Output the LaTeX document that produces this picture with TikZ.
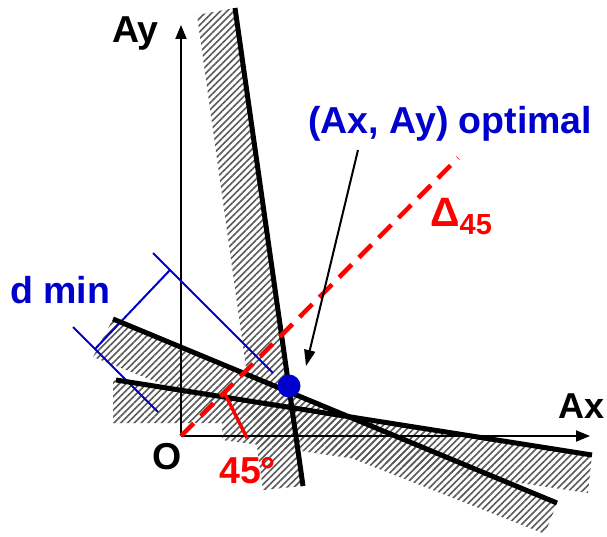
\documentclass[tikz,border=0pt]{standalone}
\usepackage{fontspec}
\setmainfont{Liberation Sans}
\usetikzlibrary{patterns.meta,arrows.meta}
\definecolor{dblue}{RGB}{0,0,204}
\definecolor{hred}{RGB}{255,0,0}
\begin{document}
\begin{tikzpicture}[x=1pt,y=-1pt,
  hatch/.style={pattern={Lines[angle=45,distance=4.8pt,line width=1.6pt]},pattern color=black!65},
  thickln/.style={line width=5pt,black},
  axisln/.style={line width=2pt,black,-{Triangle[length=14pt,width=11pt]}},
  dimln/.style={line width=2pt,dblue},
  lbl/.style={inner sep=0pt,anchor=base west,font=\fontsize{37.5}{40}\selectfont\bfseries},
]
\useasboundingbox (0,0) rectangle (607,537);
% key points
\coordinate (O) at (181,436);
\coordinate (xend) at (590,436);
\coordinate (yend) at (181,25);
% line 1 (steep)
\coordinate (l1a) at (235,8);
\coordinate (l1b) at (303,486);
% line 2
\coordinate (l2a) at (113,319);
\coordinate (l2b) at (557,503);
% line 3
\coordinate (l3a) at (116,380);
\coordinate (l3b) at (592,455);
% hatched bands
\fill[hatch] (197,15) -- (l1a) -- (l1b) -- (263,490) -- cycle;
\fill[hatch] (l2a) -- (l2b) -- (545,534) -- (93,357) -- cycle;
\fill[hatch] (113,380) -- (l3b) -- (588,493) -- (260,445) -- (222,440) -- (222,423) -- (113,423) -- cycle;
% axes
\draw[axisln] (O) -- (xend);
\draw[axisln] (O) -- (yend);
% dimension d min
\coordinate (dA1) at (153,253);
\coordinate (dA2) at (273,373);
\coordinate (dB1) at (73,327);
\coordinate (dB2) at (158,412);
\coordinate (dm1) at (170,270);
\coordinate (dm2) at (95,349);
\draw[dimln] (dA1) -- (dA2);
\draw[dimln] (dB1) -- (dB2);
\draw[dimln] (dm1) -- (dm2);
% constraint lines
\draw[thickln] (l1a) -- (l1b);
\draw[thickln] (l2a) -- (l2b);
\draw[thickln] (l3a) -- (l3b);
% 45 degree line
\coordinate (dend) at (458,158);
\draw[hred,line width=4.5pt,dash pattern=on 18pt off 10pt] (O) -- (dend);
\coordinate (m1) at (224,392);
\coordinate (m2) at (247,438);
\draw[hred,line width=3.5pt] (m1) -- (m2);
% optimum point
\fill[dblue] (289,386) circle[radius=11.5pt];
\node[circle,inner sep=0pt,minimum size=23pt] (opt) at (289,386) {};
% pointer
\coordinate (p1) at (358,150);
\coordinate (p2) at (306,366);
\draw[line width=2pt,-{Triangle[length=16pt,width=11pt]}] (p1) -- (p2);
% labels
\node[lbl] (Ay) at (112,43) {Ay};
\node[lbl,font=\fontsize{36}{40}\selectfont\bfseries] (Ax) at (558,418) {Ax};
\node[lbl] (Olbl) at (152,469) {O};
\node[lbl,hred] (deg) at (219,483) {45°};
\node[lbl,dblue] (dmin) at (10,303) {d min};
\node[lbl,dblue] (optl) at (308,134) {(Ax, Ay) optimal};
\node[lbl,hred,font=\fontsize{41}{44}\selectfont\bfseries] (delta) at (430,227) {Δ\raisebox{-8pt}{\fontsize{29}{30}\selectfont 45}};
\end{tikzpicture}
\end{document}
